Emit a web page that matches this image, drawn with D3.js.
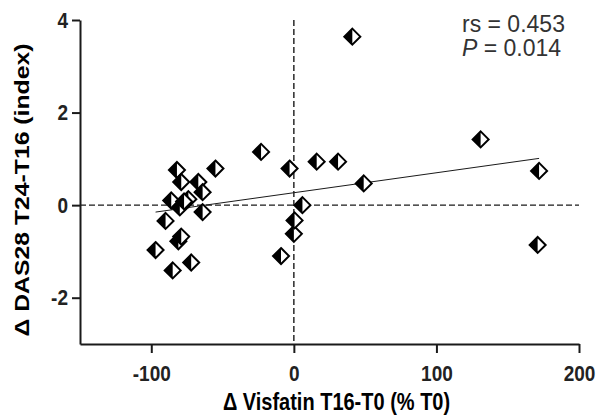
<!DOCTYPE html>
<html>
<head>
<meta charset="utf-8">
<script src="https://cdn.jsdelivr.net/npm/d3@7"></script>
<style>
  html, body { margin: 0; padding: 0; background: #fff; }
  svg { display: block; }
</style>
</head>
<body>
<svg id="chart" width="597" height="418"></svg>
<script>
// ---- data ----
const visfatinChange = [-97, -90, -86, -85, -82, -81, -79, -80, -79, -74, -72, -67, -64, -64, -55, -23, -3, -9, 0, 0.5, 6, 16, 31, 41, 49, 131, 172, 171, -77];
const das28Change    = [-0.97, -0.34, 0.10, -1.41, 0.76, -0.78, -0.68, -0.05, 0.50, 0.13, -1.24, 0.50, 0.28, -0.15, 0.79, 1.15, 0.79, -1.10, -0.62, -0.33, 0.0, 0.94, 0.94, 3.64, 0.47, 1.42, 0.74, -0.86, 0.08];
const fitX = [-97, 172];
const fitY = [-0.15, 1.01];
const xTicks = [-100, 0, 100, 200];
const yTicks = [-2, 0, 2, 4];
const xTitle = "\u0394 Visfatin T16-T0 (% T0)";
const yTitle = "\u0394 DAS28 T24-T16 (index)";
const statLine1 = "rs = 0.453";
const statP = "P";
const statLine2 = " = 0.014";

// ---- layout ----
const svg = d3.select("#chart");
const mLeft = 80, mRight = 579, mTop = 20, mBottom = 344;
const x = d3.scaleLinear().domain([-150, 200]).range([mLeft, mRight]);
const y = d3.scaleLinear().domain([-3, 4]).range([mBottom, mTop]);

const ink = "#1a1a1a";
const sy = 1.18;

// reference lines (dashed)
svg.append("line")
  .attr("x1", x(0)).attr("x2", x(0))
  .attr("y1", y(4)).attr("y2", y(-3))
  .attr("stroke", ink).attr("stroke-width", 1.4).attr("stroke-dasharray", "6,3");
svg.append("line")
  .attr("x1", x(-150)).attr("x2", x(200))
  .attr("y1", y(0)).attr("y2", y(0))
  .attr("stroke", ink).attr("stroke-width", 1.4).attr("stroke-dasharray", "6,3");

// regression line
svg.append("line")
  .attr("x1", x(fitX[0])).attr("y1", y(fitY[0]))
  .attr("x2", x(fitX[1])).attr("y2", y(fitY[1]))
  .attr("stroke", ink).attr("stroke-width", 1);

// axes
const fmt = d => String(d);
const xAxis = d3.axisBottom(x).tickValues(xTicks).tickSize(9).tickSizeOuter(0).tickFormat(fmt);
const yAxis = d3.axisLeft(y).tickValues(yTicks).tickSize(8).tickSizeOuter(0).tickFormat(fmt);

const gx = svg.append("g").attr("transform", `translate(0,${mBottom})`).call(xAxis);
const gy = svg.append("g").attr("transform", `translate(${mLeft},0)`).call(yAxis);

[gx, gy].forEach(g => {
  g.select(".domain").attr("stroke", ink).attr("stroke-width", 2);
  g.selectAll(".tick line").attr("stroke", ink).attr("stroke-width", 2);
  g.selectAll(".tick text")
    .attr("fill", "#222")
    .attr("font-family", "Liberation Sans, Arial, sans-serif")
    .attr("font-weight", "bold")
    .attr("font-size", 19);
});
gx.selectAll(".tick text")
  .attr("y", 0).attr("dy", 0)
  .attr("transform", `translate(0,37) scale(1,${sy})`);
gy.selectAll(".tick text")
  .attr("x", 0).attr("dy", 0)
  .attr("transform", `translate(-12,7) scale(1,${sy})`);

// points: half-filled diamonds
const r = 8;
const pts = svg.append("g").selectAll("g")
  .data(visfatinChange.map((v, i) => [v, das28Change[i]]))
  .join("g")
  .attr("transform", d => `translate(${x(d[0])},${y(d[1])})`);
pts.append("path")
  .attr("d", `M0,${-r}L${r},0L0,${r}L${-r},0Z`)
  .attr("fill", "#fff").attr("stroke", "#000").attr("stroke-width", 2).attr("stroke-linejoin", "miter");
pts.append("path")
  .attr("d", `M0,${-r}L${-r},0L0,${r}Z`)
  .attr("fill", "#000");

// titles
svg.append("text")
  .attr("transform", `translate(${(mLeft + mRight) / 2 + 7},${410}) scale(1,${sy})`)
  .attr("text-anchor", "middle")
  .attr("font-family", "Liberation Sans, Arial, sans-serif")
  .attr("font-weight", "bold").attr("font-size", 20).attr("fill", "#000")
  .text(xTitle);
svg.append("text")
  .attr("transform", `translate(29,${190}) scale(1,${sy}) rotate(-90)`)
  .attr("text-anchor", "middle")
  .attr("font-family", "Liberation Sans, Arial, sans-serif")
  .attr("font-weight", "bold").attr("font-size", 21).attr("fill", "#000")
  .text(yTitle);

// stats annotation
const st = svg.append("g")
  .attr("font-family", "Liberation Sans, Arial, sans-serif")
  .attr("font-size", 23).attr("fill", "#333");
st.append("text").attr("x", 462).attr("y", 32).text(statLine1);
const t2 = st.append("text").attr("x", 462).attr("y", 56);
t2.append("tspan").attr("font-style", "italic").text(statP);
t2.append("tspan").text(statLine2);
</script>
</body>
</html>
